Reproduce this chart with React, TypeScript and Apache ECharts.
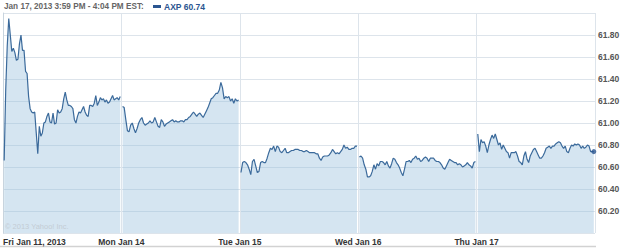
import React, { useEffect, useRef } from "react";
import * as echarts from "echarts";

const DAY_LABELS = ["Fri Jan 11, 2013", "Mon Jan 14", "Tue Jan 15", "Wed Jan 16", "Thu Jan 17"];

const FRI = [60.66, 61.30, 61.70, 61.95, 61.80, 61.65, 61.68, 61.64, 61.57, 61.58,
  61.72, 61.80, 61.66, 61.66, 61.47, 61.45, 61.24, 61.13, 61.10, 61.09,
  61.10, 60.91, 60.72, 60.97, 60.88, 60.91, 61.00, 61.01, 61.06, 61.09,
  61.01, 61.00, 61.09, 60.99, 61.00, 61.12, 61.09, 61.10, 61.13, 61.22,
  61.28, 61.21, 61.16, 61.16, 61.15, 61.13, 61.03, 61.00, 61.06, 61.10,
  61.09, 61.12, 61.15, 61.10, 61.07, 61.06, 61.16, 61.16, 61.15, 61.18,
  61.25, 61.16, 61.19, 61.23, 61.21, 61.22, 61.19, 61.21, 61.18, 61.19,
  61.22, 61.25, 61.21, 61.22, 61.23, 61.21, 61.24];

const MON = [61.15, 61.14, 61.03, 60.93, 60.92, 60.98, 61.00, 60.95, 60.91, 60.95,
  61.00, 61.03, 61.05, 61.00, 60.98, 60.99, 61.00, 61.02, 61.00, 61.01,
  61.05, 61.01, 60.97, 60.96, 61.03, 61.01, 60.97, 60.99, 61.00, 61.01,
  61.02, 61.03, 61.01, 61.02, 61.01, 61.01, 61.02, 61.02, 61.01, 61.03,
  61.03, 61.05, 61.06, 61.08, 61.10, 61.08, 61.06, 61.08, 61.09, 61.07,
  61.05, 61.08, 61.11, 61.14, 61.18, 61.22, 61.23, 61.25, 61.27, 61.27,
  61.30, 61.37, 61.32, 61.22, 61.24, 61.23, 61.24, 61.20, 61.22, 61.18,
  61.22, 61.20, 61.21];

const TUE = [60.55, 60.64, 60.65, 60.64, 60.62, 60.58, 60.53, 60.65, 60.67, 60.61,
  60.55, 60.56, 60.64, 60.65, 60.64, 60.64, 60.68, 60.73, 60.77, 60.76,
  60.79, 60.74, 60.79, 60.78, 60.74, 60.73, 60.75, 60.77, 60.73, 60.73,
  60.74, 60.75, 60.75, 60.76, 60.76, 60.76, 60.75, 60.75, 60.74, 60.74,
  60.75, 60.74, 60.73, 60.73, 60.73, 60.73, 60.72, 60.72, 60.68, 60.66,
  60.69, 60.70, 60.70, 60.70, 60.71, 60.73, 60.76, 60.74, 60.72, 60.73,
  60.72, 60.74, 60.76, 60.80, 60.77, 60.78, 60.76, 60.76, 60.77, 60.77,
  60.79, 60.79];

const WED = [60.69, 60.70, 60.68, 60.62, 60.58, 60.51, 60.51, 60.52, 60.56, 60.62,
  60.58, 60.63, 60.61, 60.65, 60.65, 60.64, 60.62, 60.65, 60.61, 60.59,
  60.63, 60.68, 60.67, 60.64, 60.62, 60.59, 60.55, 60.52, 60.58, 60.65,
  60.65, 60.66, 60.64, 60.67, 60.68, 60.70, 60.67, 60.68, 60.65, 60.66,
  60.68, 60.69, 60.68, 60.65, 60.68, 60.68, 60.68, 60.66, 60.65, 60.65,
  60.64, 60.62, 60.59, 60.58, 60.61, 60.64, 60.67, 60.66, 60.65, 60.64,
  60.64, 60.62, 60.63, 60.62, 60.60, 60.61, 60.62, 60.64, 60.62, 60.61,
  60.59, 60.64, 60.65];

const THU = [60.90, 60.74, 60.85, 60.82, 60.83, 60.79, 60.73, 60.80, 60.85, 60.89,
  60.86, 60.90, 60.85, 60.80, 60.82, 60.76, 60.80, 60.77, 60.74, 60.73,
  60.68, 60.73, 60.73, 60.73, 60.74, 60.70, 60.65, 60.64, 60.62, 60.70,
  60.74, 60.67, 60.64, 60.70, 60.73, 60.76, 60.77, 60.74, 60.71, 60.68,
  60.68, 60.70, 60.73, 60.77, 60.78, 60.79, 60.77, 60.79, 60.79, 60.81,
  60.82, 60.83, 60.82, 60.79, 60.77, 60.79, 60.74, 60.73, 60.77, 60.80,
  60.79, 60.81, 60.80, 60.81, 60.80, 60.77, 60.79, 60.77, 60.78, 60.80,
  60.79, 60.74, 60.74, 60.74];

const DAYS = [FRI, MON, TUE, WED, THU];
const LAST_PRICE = 60.74;
const HEADER_TIME = "Jan 17, 2013 3:59 PM - 4:04 PM EST:";
const HEADER_SYMBOL = "AXP 60.74";
const COPYRIGHT = "\u00a9 2013 Yahoo! Inc.";

const FONT = "'Liberation Sans', Arial, sans-serif";

export default function App() {
  const ref = useRef<HTMLDivElement>(null);
  useEffect(() => {
    if (!ref.current) return;
    const chart = echarts.init(ref.current, null, { renderer: "svg" });
    const seriesData: any[] = [];
    let lastX = 0;
    DAYS.forEach((vals, d) => {
      vals.forEach((v, i) => {
        const x = d + 0.01 + (0.98 * i) / (vals.length - 1);
        seriesData.push([x, v]);
        lastX = x;
      });
      if (d < DAYS.length - 1) seriesData.push([d + 1, "-"]);
    });
    chart.setOption({
      animation: false,
      textStyle: { fontFamily: FONT },
      grid: { left: 3, right: 30, top: 13, bottom: 15, containLabel: false },
      xAxis: {
        type: "value",
        min: 0,
        max: 5,
        interval: 1,
        axisLine: { show: false },
        axisTick: { show: false },
        splitLine: { show: true, lineStyle: { color: "#dde4eb", width: 1 } },
        axisLabel: {
          formatter: (v: number) => DAY_LABELS[Math.round(v)] ?? "",
          showMaxLabel: false,
          alignMinLabel: "left",
          margin: 4,
          fontSize: 8.5,
          fontWeight: "bold",
          color: "#333",
          fontFamily: FONT,
        },
      },
      yAxis: {
        type: "value",
        position: "right",
        min: 60,
        max: 62,
        interval: 0.2,
        axisLine: { show: true, lineStyle: { color: "#c8d4de", width: 1 } },
        axisTick: { show: false },
        splitLine: { show: true, lineStyle: { color: "#dde4eb", width: 1 } },
        axisLabel: {
          formatter: (v: number) => v.toFixed(2),
          showMinLabel: false,
          showMaxLabel: false,
          margin: 3,
          fontSize: 8.5,
          fontWeight: "bold",
          color: "#555",
          fontFamily: FONT,
        },
      },
      series: [
        {
          type: "line",
          data: seriesData,
          showSymbol: false,
          connectNulls: false,
          lineStyle: { color: "#3b6a9b", width: 1.2 },
          areaStyle: { color: "rgba(150,190,220,0.4)", opacity: 1, origin: "start" },
          z: 2,
        },
        {
          type: "scatter",
          data: [[lastX, LAST_PRICE]],
          symbol: "circle",
          symbolSize: 5,
          itemStyle: { color: "#2a5590" },
          z: 3,
        },
      ],
      graphic: [
        {
          type: "text",
          left: 4,
          top: 2,
          style: { text: HEADER_TIME, fill: "#666", font: `bold 8.2px ${FONT}` },
        },
        { type: "rect", shape: { x: 153, y: 5, width: 8, height: 3 }, style: { fill: "#2a5590" } },
        {
          type: "text",
          left: 164,
          top: 2,
          style: { text: HEADER_SYMBOL, fill: "#2a5590", font: `bold 8.5px ${FONT}` },
        },
        {
          type: "text",
          left: 5,
          top: 222,
          style: { text: COPYRIGHT, fill: "#c3ccd4", font: `7.5px ${FONT}` },
          z: 10,
        },
        {
          type: "line",
          shape: { x1: 0, y1: 246.5, x2: 596, y2: 246.5 },
          style: { stroke: "#d2d2d2", lineWidth: 1.5 },
        },
      ],
    });
    return () => chart.dispose();
  }, []);
  return (
    <div
      ref={ref}
      style={{ position: "fixed", left: 0, top: 0, width: 625, height: 248, background: "#fff" }}
    />
  );
}
